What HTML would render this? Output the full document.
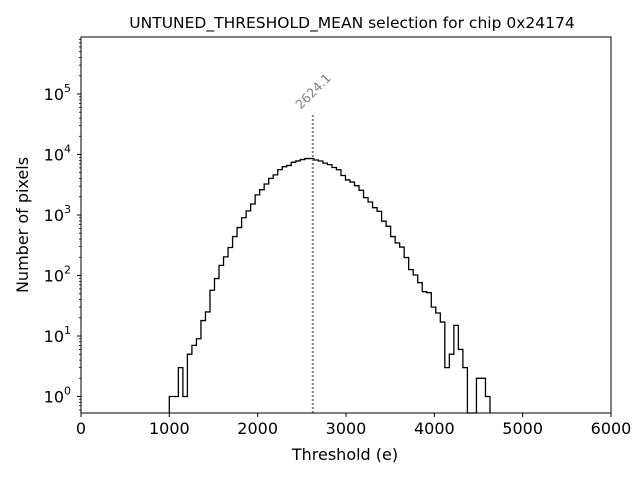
<!DOCTYPE html>
<html><head><meta charset="utf-8"><style>
body{margin:0;background:#fff;font-family:"Liberation Sans","DejaVu Sans",sans-serif}
svg text{font-family:"DejaVu Sans","Liberation Sans",sans-serif}
</style></head><body>
<svg id="chart" width="640" height="480" xmlns="http://www.w3.org/2000/svg"></svg>
<script>
const binStart = 1000;
const binEnd = 4630;
const counts = [1,1,3,1,5,7,9,18,25,57,89,147,203,290,440,620,900,1170,1520,2150,2620,3250,4030,4600,5620,6290,6600,7430,7830,8240,8560,8600,8100,7800,7200,6800,6100,5600,4500,3800,3500,3050,2560,1940,1640,1320,1150,790,650,440,345,295,198,125,102,76,54,52,30,24,17,3,5,15,6,3,0,0,2,2,1];
const meanValue = 2624.1;
const meanLineTop = 47000;
const xTicks = [0,1000,2000,3000,4000,5000,6000];
const yTickExps = [0,1,2,3,4,5];

const L=81,R=611,T=37,B=413;
const xMin=0,xMax=6000;
const x=v=>L+(v-xMin)/(xMax-xMin)*(R-L);
const Y0=396.5, DEC=60.5;
const y=v=>v<=0?B:Math.min(B,Y0-Math.log10(v)*DEC);
const svg=document.getElementById('chart');
const NS='http://www.w3.org/2000/svg';
function mk(tag,attrs,parent){const e=document.createElementNS(NS,tag);for(const k in attrs)e.setAttribute(k,attrs[k]);(parent||svg).appendChild(e);return e;}

let t=mk('text',{x:352,y:28,'text-anchor':'middle','font-size':'15.5'});
t.textContent='UNTUNED_THRESHOLD_MEAN selection for chip 0x24174';



const w=(binEnd-binStart)/counts.length;
let d='M'+x(binStart)+','+B;
counts.forEach((c,i)=>{const x0=x(binStart+i*w),x1=x(binStart+(i+1)*w);d+=' L'+x0+','+y(c)+' L'+x1+','+y(c);});
d+=' L'+x(binEnd)+','+B;
let h=mk('path',{d:d,fill:'none',stroke:'#000','stroke-width':1.3});



let ml=mk('line',{x1:x(meanValue),x2:x(meanValue),y1:B,y2:y(meanLineTop),stroke:'#808080','stroke-width':2,'stroke-dasharray':'2,2'});


const lx=x(meanValue)+1, ly=y(meanLineTop)-22;
let mlt=mk('text',{x:lx,y:ly,'font-size':'12.5',fill:'#808080','text-anchor':'middle','dominant-baseline':'middle',transform:'rotate(-45 '+lx+' '+ly+')'});
mlt.textContent=meanValue.toFixed(1);



let fr=mk('rect',{x:L,y:T,width:R-L,height:B-T,fill:'none',stroke:'#000','stroke-width':1});



xTicks.forEach(v=>{
  mk('line',{x1:x(v),x2:x(v),y1:B,y2:B+4,stroke:'#000'});
  let tt=mk('text',{x:x(v),y:B+21,'text-anchor':'middle','font-size':'16'});
  tt.textContent=v;
  
  
});
yTickExps.forEach(e=>{
  const yy=Y0-e*DEC;
  mk('line',{x1:L-4,x2:L,y1:yy,y2:yy,stroke:'#000'});
  let tt=mk('text',{x:L-10,y:yy+6,'text-anchor':'end','font-size':'16'});
  tt.innerHTML='10<tspan dy="-8" font-size="11">'+e+'</tspan>';
  
  
});
for(let e=-1;e<=5;e++){for(let m=2;m<=9;m++){const v=m*Math.pow(10,e);const yy=y(v);if(yy>T&&yy<B)mk('line',{x1:L-2,x2:L,y1:yy,y2:yy,stroke:'#000','stroke-width':0.8});}}

let xl=mk('text',{x:345,y:460,'text-anchor':'middle','font-size':'16'});
xl.textContent='Threshold (e)';


let yl=mk('text',{x:28,y:225,'text-anchor':'middle','font-size':'16',transform:'rotate(-90 28 225)'});
yl.textContent='Number of pixels';


</script>
</body></html>
